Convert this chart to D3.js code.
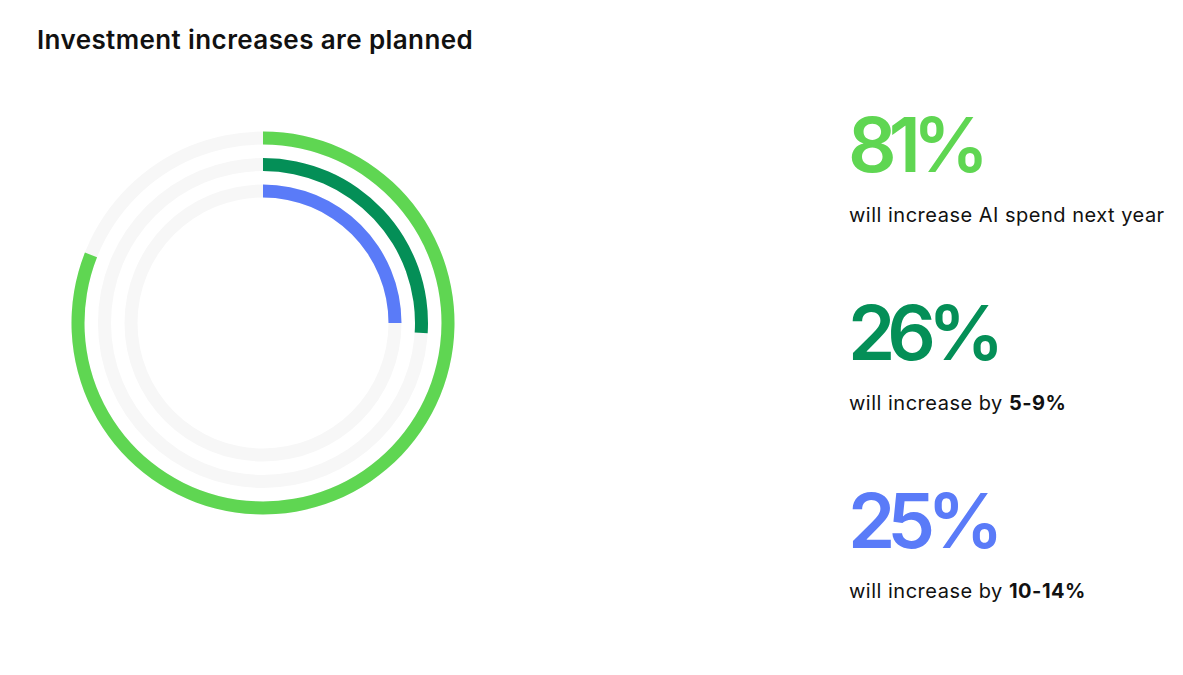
<!DOCTYPE html>
<html>
<head>
<meta charset="utf-8">
<script src="https://cdn.jsdelivr.net/npm/d3@7"></script>
<style>
  html, body { margin: 0; padding: 0; background: #fff; }
  svg { display: block; font-family: Inter, Lato, "Noto Sans", sans-serif; }
</style>
</head>
<body>
<div class="container"></div>
<script>
/********** the Data **********/
const title = "Investment increases are planned";
const values = [81, 26, 25];
const captions = ["will increase AI spend next year", "will increase by ", "will increase by "];
const boldParts = ["", "5-9%", "10-14%"];

const colors = ["#5fd652", "#048f57", "#5a7bf8"];
const trackColor = "#f7f7f7";

/********** drawChart **********/
function drawChart() {
  let width = 1183, height = 675;
  let cx = 263, cy = 323;
  let thickness = 13;

  let svg = d3.select(".container")
    .append("svg")
      .attr("width", width)
      .attr("height", height);

  // title
  svg.append("text")
    .attr("x", 37)
    .attr("y", 49)
    .attr("font-size", 26)
    .attr("font-weight", 600)
    .attr("letter-spacing", 0.4)
    .attr("fill", "#111")
    .text(title);

  // ring index -> outer radius
  let rScale = d3.scaleLinear().domain([0, values.length - 1]).range([191.5, 138.5]);
  // percent -> angle
  let angle = d3.scaleLinear().domain([0, 100]).range([0, 2 * Math.PI]);

  let arc = d3.arc()
    .innerRadius((d, i) => rScale(i) - thickness)
    .outerRadius((d, i) => rScale(i))
    .startAngle(0);

  let g = svg.append("g").attr("transform", `translate(${cx}, ${cy})`);

  // background tracks
  g.selectAll(".track")
    .data(values)
    .join("path")
      .attr("class", "track")
      .attr("fill", trackColor)
      .attr("d", (d, i) => arc.endAngle(angle(100))(d, i));

  // value arcs
  g.selectAll(".bar")
    .data(values)
    .join("path")
      .attr("class", "bar")
      .attr("fill", (d, i) => colors[i])
      .attr("d", (d, i) => arc.endAngle(angle(d))(d, i));

  // right-hand labels
  let yScale = d3.scaleBand().domain(d3.range(values.length)).range([104, 668]);

  let items = svg.selectAll(".item")
    .data(values)
    .join("g")
      .attr("class", "item")
      .attr("transform", (d, i) => `translate(848, ${yScale(i)})`);

  items.append("text")
    .attr("y", 68)
    .attr("font-size", 76)
    .attr("font-weight", 600)
    .attr("letter-spacing", -8)
    .attr("fill", (d, i) => colors[i])
    .text(d => d + "%");

  let cap = items.append("text")
    .attr("x", 1)
    .attr("y", 118)
    .attr("font-size", 20)
    .attr("letter-spacing", 0.5)
    .attr("fill", "#111");
  cap.append("tspan").text((d, i) => captions[i]);
  cap.append("tspan").attr("font-weight", 700).text((d, i) => boldParts[i]);
}

drawChart();
</script>
</body>
</html>
